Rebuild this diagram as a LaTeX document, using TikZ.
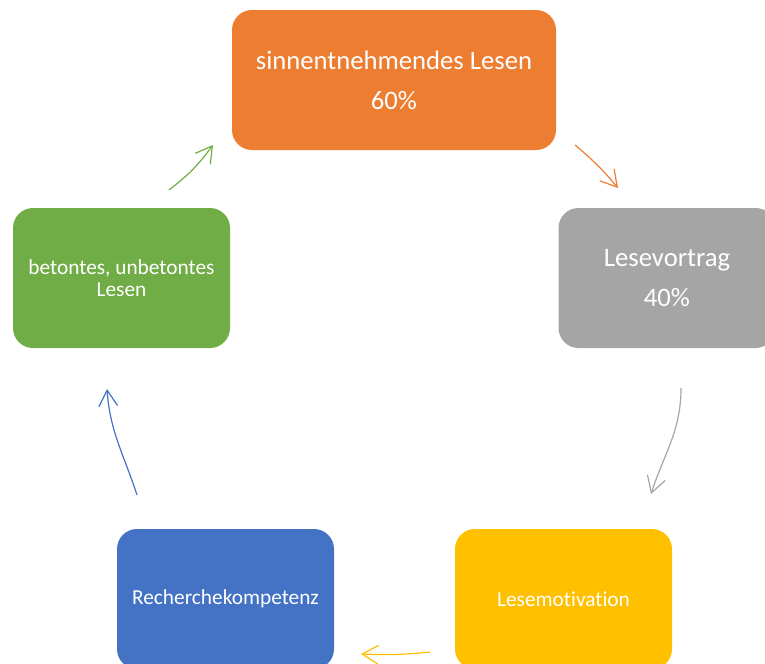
\documentclass[tikz,border=0pt]{standalone}
\usepackage{fontspec}
\setmainfont[Ligatures=CommonOff]{Carlito}
\usetikzlibrary{arrows.meta}
\definecolor{cOrange}{HTML}{ED7D31}
\definecolor{cGray}{HTML}{A5A5A5}
\definecolor{cYellow}{HTML}{FFC000}
\definecolor{cBlue}{HTML}{4472C4}
\definecolor{cGreen}{HTML}{70AD47}
\tikzset{
  box/.style={draw=none, rounded corners=15pt, minimum height=105pt, minimum width=162.75pt,
    inner sep=0pt, align=center, text=white},
  bigtxt/.style={font=\fontsize{20pt}{30pt}\selectfont},
  smalltxt/.style={font=\fontsize{16pt}{16.5pt}\selectfont},
  flow/.style={line width=0.9pt, -{Straight Barb[length=12pt,width=14pt,line width=0.9pt]}}
}
\begin{document}
\begin{tikzpicture}[x=0.75pt,y=-0.75pt]
\useasboundingbox (0,0) rectangle (765,664);
\clip (0,0) rectangle (765,664);
\node[box, bigtxt, fill=cOrange, minimum width=243pt] (sinn) at (394,80) {sinnentnehmendes Lesen\\60\%};
\node[box, bigtxt, fill=cGray] (vortrag) at (667,278) {Lesevortrag\\40\%};
\node[box, smalltxt, fill=cYellow] (motiv) at (563.5,599) {Lesemotivation};
\node[box, smalltxt, fill=cBlue] (recherche) at (225.5,599) {Recherchekompetenz};
\node[box, smalltxt, fill=cGreen] (beton) at (121.5,278) {betontes, unbetontes\\Lesen};

\coordinate (a1) at (575,145); \coordinate (b1) at (618,188);
\coordinate (a2) at (681,388); \coordinate (b2) at (651,494);
\coordinate (a3) at (430,652); \coordinate (b3) at (361,654);
\coordinate (a4) at (137,495); \coordinate (b4) at (107,389);
\coordinate (a5) at (169,190); \coordinate (b5) at (213,145);

\draw[flow, cOrange] (a1) to[bend left=5] (b1);
\draw[flow, cGray] (a2) to[out=-90, in=72] (b2);
\draw[flow, cYellow] (a3) to[bend left=4] (b3);
\draw[flow, cBlue] (a4) to[out=108, in=-86] (b4);
\draw[flow, cGreen] (a5) to[bend right=8] (b5);
\end{tikzpicture}
\end{document}
